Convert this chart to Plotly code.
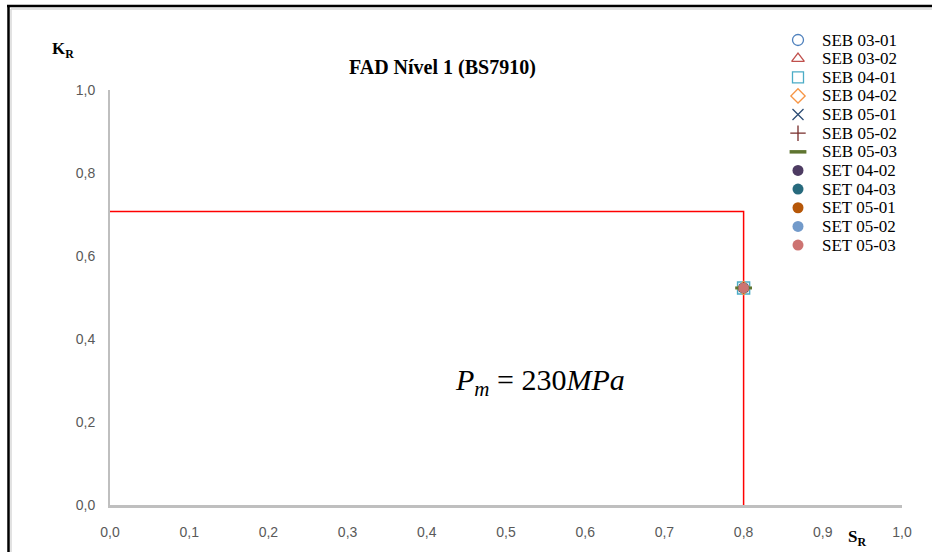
import plotly.graph_objects as go

# Specimen results (S_R, K_R) — all specimens sit at the same assessment point
series_names = ["SEB 03-01", "SEB 03-02", "SEB 04-01", "SEB 04-02", "SEB 05-01", "SEB 05-02",
                "SEB 05-03", "SET 04-02", "SET 04-03", "SET 05-01", "SET 05-02", "SET 05-03"]
series_sr = [0.8] * 12
series_kr = [0.523] * 12
series_symbols = ["circle-open", "triangle-up-open", "square-open", "diamond-open", "x-thin-open",
                  "cross-thin-open", "line-ew-open", "circle", "circle", "circle", "circle", "circle"]
series_colors = ["#4F81BD", "#C0504D", "#4BACC6", "#F79646", "#2C4D75", "#772C2A",
                 "#5F7530", "#4D3B62", "#276A7D", "#B65708", "#729ACA", "#CD7371"]
series_sizes = [10, 10, 12, 10, 8, 8, 12, 10, 10, 10, 10, 10]

# FAD level 1 (BS7910) boundary
fad_sr = [0.0, 0.8, 0.8]
fad_kr = [0.707, 0.707, 0.0]

W, H = 932, 552
PLOT_L, PLOT_R, PLOT_T, PLOT_B = 110, 902, 90, 505
SERIF = "Liberation Serif, Times New Roman, serif"

fig = go.Figure()

# Boundary line on the main axes
fig.add_trace(go.Scatter(x=fad_sr, y=fad_kr, mode="lines", line=dict(color="#FF0000", width=1.5),
                         showlegend=False, hoverinfo="skip"))

# Specimen points on the main axes
for name, sx, ky, sym, col, sz in zip(series_names, series_sr, series_kr, series_symbols,
                                      series_colors, series_sizes):
    filled = not sym.endswith("open")
    fig.add_trace(go.Scatter(
        x=[sx], y=[ky], mode="markers", name=name, showlegend=False,
        marker=dict(symbol=sym, size=sz, color=col,
                    line=dict(color=col, width=0 if filled else (3 if sym == "line-ew-open" else 1.5))),
    ))

# Key: markers on a pixel-space overlay axis, labels as annotations
key_x, key_text_x, key_y0, key_dy = 798, 820, 40, 18.64
key_y = [key_y0 + i * key_dy for i in range(len(series_names))]
for name, sym, col, ky in zip(series_names, series_symbols, series_colors, key_y):
    filled = not sym.endswith("open")
    fig.add_trace(go.Scatter(
        x=[key_x], y=[ky], mode="markers", xaxis="x2", yaxis="y2", showlegend=False,
        hoverinfo="skip",
        marker=dict(symbol=sym, size=11 if sym != "line-ew-open" else 12, color=col,
                    line=dict(color=col, width=0 if filled else (3.5 if sym == "line-ew-open" else 1.3))),
    ))

fig.update_layout(
    width=W, height=H,
    margin=dict(l=0, r=0, t=0, b=0, pad=0, autoexpand=False),
    paper_bgcolor="white", plot_bgcolor="rgba(0,0,0,0)",
    separators=",.",
    showlegend=False,
    font=dict(family="Liberation Sans Narrow, Liberation Sans, Arial", color="#595959", size=14),
    xaxis=dict(domain=[PLOT_L / W, PLOT_R / W], range=[0, 1], dtick=0.1, tickformat=".1f",
               showgrid=False, zeroline=False, showline=True, linecolor="#BFBFBF", linewidth=2.5,
               ticks="", ticklabelstandoff=12, fixedrange=True, automargin=False),
    yaxis=dict(domain=[(H - PLOT_B) / H, (H - PLOT_T) / H], range=[0, 1], dtick=0.2,
               tickformat=".1f", showgrid=False, zeroline=False, showline=True,
               linecolor="#BFBFBF", linewidth=2, ticks="", ticklabelstandoff=10, fixedrange=True,
               automargin=False),
    xaxis2=dict(domain=[0, 1], range=[0, W], visible=False, fixedrange=True, anchor="y2",
                automargin=False),
    yaxis2=dict(domain=[0, 1], range=[H, 0], visible=False, fixedrange=True, anchor="x2",
                automargin=False),
)

annotations = [dict(text=name, x=key_text_x, y=ky, xanchor="left", yanchor="middle",
                    font=dict(family=SERIF, size=17, color="#000000"))
               for name, ky in zip(series_names, key_y)]
annotations += [
    dict(text="<b>FAD Nível 1 (BS7910)</b>", x=442, y=67, xanchor="center", yanchor="middle",
         font=dict(family=SERIF, size=20, color="#000000")),
    dict(text="<b>K<sub>R</sub></b>", x=63, y=50, xanchor="center", yanchor="middle",
         font=dict(family=SERIF, size=17, color="#000000")),
    dict(text="<b>S<sub>R</sub></b>", x=857, y=538, xanchor="center", yanchor="middle",
         font=dict(family=SERIF, size=17, color="#000000")),
    dict(text="<i>P</i><sub><i>m</i></sub> = 230<i>MPa</i>", x=540, y=382, xanchor="center",
         yanchor="middle", font=dict(family=SERIF, size=30, color="#000000")),
]
for a in annotations:
    a.update(xref="x2", yref="y2", showarrow=False)
fig.update_layout(annotations=annotations)

# Frame lines around the chart area
shapes = [
    dict(type="line", x0=11, x1=940, y0=9, y1=9, line=dict(color="#D9D9D9", width=1.5)),
    dict(type="line", x0=11, x1=11, y0=9, y1=560, line=dict(color="#D9D9D9", width=1.5)),
    dict(type="line", x0=7, x1=940, y0=6, y1=6, line=dict(color="#000000", width=2.5)),
    dict(type="line", x0=8.5, x1=8.5, y0=5, y1=560, line=dict(color="#000000", width=2.5)),
]
for s in shapes:
    s.update(xref="x2", yref="y2", layer="above")
fig.update_layout(shapes=shapes)

fig.write_html("out.html", config={"displayModeBar": False})
